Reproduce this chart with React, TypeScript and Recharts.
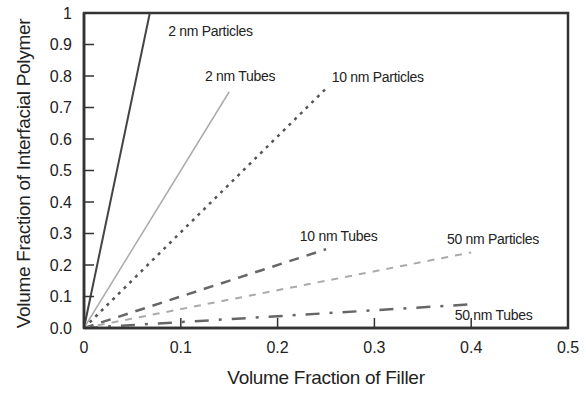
import { LineChart, Line, XAxis, YAxis, ReferenceArea, ReferenceDot } from "recharts";

// series: each one is a straight line from the origin
const seriesNames = ["2 nm Particles", "2 nm Tubes", "10 nm Particles", "10 nm Tubes", "50 nm Particles", "50 nm Tubes"];
const startX = [0, 0, 0, 0, 0, 0];
const startY = [0, 0, 0, 0, 0, 0];
const endX = [0.068, 0.15, 0.25, 0.25, 0.4, 0.4];
const endY = [1.0, 0.75, 0.76, 0.25, 0.24, 0.075];

const xTicks = [0, 0.1, 0.2, 0.3, 0.4, 0.5];
const yTicks = [0, 0.1, 0.2, 0.3, 0.4, 0.5, 0.6, 0.7, 0.8, 0.9, 1];

// where each series name sits, in data units
const labelX = [0.087, 0.125, 0.256, 0.223, 0.375, 0.383];
const labelY = [0.943, 0.799, 0.796, 0.292, 0.282, 0.04];

const lineStyles = [
  { stroke: "#444", width: 2, dash: undefined },
  { stroke: "#aaa", width: 1.5, dash: undefined },
  { stroke: "#555", width: 2.5, dash: "3 5" },
  { stroke: "#666", width: 2.5, dash: "10 8" },
  { stroke: "#aaa", width: 2, dash: "7 7" },
  { stroke: "#666", width: 2.5, dash: "14 10 3 10" },
];

const FONT = '"Liberation Sans", Arial, sans-serif';

const fmtY = (v: number) => (v === 0 ? "0.0" : v === 1 ? "1" : v.toFixed(1));
const fmtX = (v: number) => (v === 0 ? "0" : v.toFixed(1));

export default function App() {
  const series = seriesNames.map((name, i) => ({
    name,
    data: [
      { x: startX[i], y: startY[i] },
      { x: endX[i], y: endY[i] },
    ],
  }));

  return (
    <div style={{ position: "absolute", left: 0, top: 0, background: "#fff", fontFamily: FONT }}>
      <LineChart width={586} height={395} margin={{ top: 13, right: 18, left: 0, bottom: 0 }}>
        <XAxis
          type="number"
          dataKey="x"
          domain={[0, 0.5]}
          ticks={xTicks}
          tickFormatter={fmtX}
          allowDataOverflow
          height={67}
          axisLine={{ stroke: "#333", strokeWidth: 2.5 }}
          tickLine={{ stroke: "#333", strokeWidth: 1.5 }}
          tickSize={-10}
          tickMargin={24}
          tick={{ fill: "#222", fontSize: 16, fontFamily: FONT }}
          label={{
            content: ({ viewBox }: any) => (
              <text
                x={viewBox.x + viewBox.width / 2}
                y={viewBox.y + 56}
                textAnchor="middle"
                fill="#222"
                fontSize={19}
                fontFamily={FONT}
                letterSpacing={-0.3}
              >
                Volume Fraction of Filler
              </text>
            ),
          }}
        />
        <YAxis
          type="number"
          dataKey="y"
          domain={[0, 1]}
          ticks={yTicks}
          tickFormatter={fmtY}
          allowDataOverflow
          width={84}
          axisLine={{ stroke: "#333", strokeWidth: 2.5 }}
          tickLine={{ stroke: "#333", strokeWidth: 1.5 }}
          tickSize={-10}
          tickMargin={22}
          tick={{ fill: "#222", fontSize: 16, fontFamily: FONT }}
          label={{
            content: ({ viewBox }: any) => {
              const cx = 30;
              const cy = viewBox.y + viewBox.height / 2 + 3;
              return (
                <text
                  x={cx}
                  y={cy}
                  transform={`rotate(-90 ${cx} ${cy})`}
                  textAnchor="middle"
                  fill="#222"
                  fontSize={19}
                  fontFamily={FONT}
                  letterSpacing={-0.3}
                >
                  Volume Fraction of Interfacial Polymer
                </text>
              );
            },
          }}
        />
        <ReferenceArea x1={0} x2={0.5} y1={0} y2={1} fill="none" stroke="#333" strokeWidth={2.5} />
        {series.map((s, i) => (
          <Line
            key={s.name}
            data={s.data}
            dataKey="y"
            type="linear"
            stroke={lineStyles[i].stroke}
            strokeWidth={lineStyles[i].width}
            strokeDasharray={lineStyles[i].dash}
            dot={false}
            activeDot={false}
            isAnimationActive={false}
          />
        ))}
        {seriesNames.map((name, i) => (
          <ReferenceDot
            key={"lbl" + i}
            x={labelX[i]}
            y={labelY[i]}
            r={0}
            fill="none"
            stroke="none"
            label={{
              content: ({ viewBox }: any) => (
                <text
                  x={viewBox.x}
                  y={viewBox.y}
                  dy="0.35em"
                  textAnchor="start"
                  fill="#222"
                  fontSize={14}
                  fontFamily={FONT}
                  letterSpacing={-0.3}
                >
                  {name}
                </text>
              ),
            }}
          />
        ))}
      </LineChart>
    </div>
  );
}
